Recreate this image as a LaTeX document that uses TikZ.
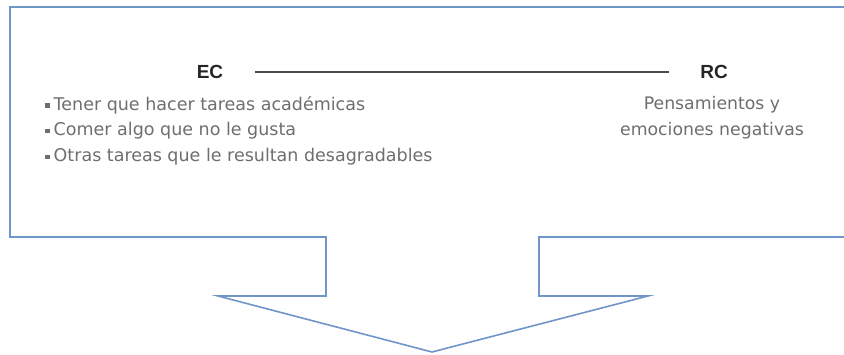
\documentclass[tikz,border=0pt]{standalone}
\usepackage{fontspec}
\setmainfont{DejaVu Sans}
\newfontfamily\headfont{Liberation Sans}
\definecolor{shapeblue}{HTML}{6F95C9}
\definecolor{txtgray}{HTML}{6E6E6E}
\definecolor{linegray}{HTML}{4A4A4A}
\tikzset{
  head/.style={font=\headfont\bfseries\fontsize{19}{22}\selectfont, text=black!85, inner sep=0pt},
  item/.style={font=\fontsize{17.5}{22}\selectfont, text=txtgray, inner sep=0pt, anchor=west},
  rtext/.style={font=\fontsize{17.3}{22}\selectfont, text=txtgray, inner sep=0pt},
  outline/.style={draw=shapeblue, line width=1.6pt, line join=miter},
}
\newcommand{\sqbullet}{\tikz[baseline=-2.5pt]\fill[txtgray] (0,0) rectangle (4.5pt,4.5pt);\hspace{4pt}}
\begin{document}
\begin{tikzpicture}[x=1pt,y=-1pt]
\useasboundingbox (0,0) rectangle (844,355);
\begin{scope}
\clip (0,0) rectangle (844,355);
\coordinate (tr) at (860,7);
\coordinate (br) at (860,237);
\draw[outline] (tr) -- (10,7) -- (10,237) -- (326,237) -- (326,296) -- (218,296) -- (432,352) -- (648,296) -- (539,296) -- (539,237) -- (br);
\end{scope}
\node[head] (ec) at (210,72) {EC};
\node[head] (rc) at (714,72) {RC};
\coordinate (l1) at (255,72);
\coordinate (l2) at (669,72);
\draw[linegray, line width=2.2pt] (l1) -- (l2);
\node[item] (i1) at (45,105) {\sqbullet Tener que hacer tareas académicas};
\node[item] (i2) at (45,131) {\sqbullet Comer algo que no le gusta};
\node[item] (i3) at (45,157) {\sqbullet Otras tareas que le resultan desagradables};
\node[rtext] (r1) at (712,105) {Pensamientos y};
\node[rtext] (r2) at (712,131) {emociones negativas};
\end{tikzpicture}
\end{document}
